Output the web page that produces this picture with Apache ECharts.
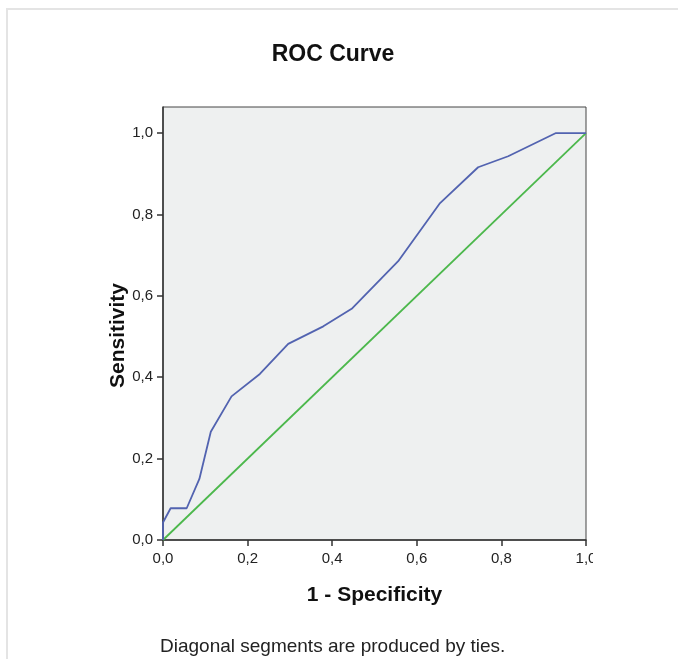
<!DOCTYPE html>
<html>
<head>
<meta charset="utf-8">
<title>ROC Curve</title>
<script src="https://cdn.jsdelivr.net/npm/echarts@6/dist/echarts.min.js"></script>
<style>
  html, body { margin: 0; padding: 0; background: #fff; }
  #chart { width: 678px; height: 659px; }
</style>
</head>
<body>
<div id="chart"></div>
<script>
// ROC points: 1 - specificity / sensitivity
const falsePosRate = [0, 0, 0.018, 0.056, 0.086, 0.113, 0.162, 0.229, 0.296, 0.379, 0.446, 0.556, 0.655, 0.745, 0.816, 0.929, 1.0]
const truePosRate = [0, 0.043, 0.078, 0.078, 0.15, 0.266, 0.353, 0.408, 0.482, 0.525, 0.568, 0.685, 0.828, 0.916, 0.943, 1.0, 1.0]
const referenceLine = [[0, 0], [1, 1]]
const tickValues = [0, 0.2, 0.4, 0.6, 0.8, 1.0]

const font = "'Liberation Sans', Arial, sans-serif"
const fmt = (v) => v.toFixed(1).replace('.', ',')

const chart = echarts.init(document.getElementById('chart'))

const option = {
  animation: false,
  backgroundColor: '#ffffff',
  title: {
    text: 'ROC Curve',
    left: 328,
    top: 38,
    textAlign: 'center',
    textStyle: { fontFamily: font, fontSize: 23, fontWeight: 'bold', color: '#111' }
  },
  grid: {
    left: 163,
    right: 92,
    top: 107,
    bottom: 119,
    show: true,
    backgroundColor: '#eef0f0',
    borderColor: '#444',
    borderWidth: 1
  },
  xAxis: {
    type: 'value',
    min: 0,
    max: 1,
    interval: 0.2,
    name: '1 - Specificity',
    nameLocation: 'middle',
    nameGap: 45,
    nameTextStyle: { fontFamily: font, fontSize: 21, fontWeight: 'bold', color: '#111' },
    axisLine: { show: true, lineStyle: { color: '#333', width: 1.5 } },
    axisTick: { show: true, length: 6, lineStyle: { color: '#333', width: 1.5 } },
    axisLabel: { fontFamily: font, fontSize: 15, color: '#222', margin: 11, formatter: fmt },
    splitLine: { show: false }
  },
  yAxis: {
    type: 'value',
    min: 0,
    max: 1.064,
    name: 'Sensitivity',
    nameLocation: 'middle',
    nameGap: 34,
    nameMoveOverlap: false,
    nameTextStyle: { fontFamily: font, fontSize: 21, fontWeight: 'bold', color: '#111', padding: [0, 24, 0, 0] },
    axisLine: { show: true, lineStyle: { color: '#333', width: 1.5 } },
    axisTick: { show: true, length: 6, customValues: tickValues, lineStyle: { color: '#333', width: 1.5 } },
    axisLabel: { fontFamily: font, fontSize: 15, color: '#222', margin: 10, customValues: tickValues, formatter: fmt },
    splitLine: { show: false }
  },
  series: [
    {
      name: 'ROC',
      type: 'line',
      showSymbol: false,
      data: falsePosRate.map((x, i) => [x, truePosRate[i]]),
      lineStyle: { color: '#5263b0', width: 1.8 },
      z: 3
    },
    {
      name: 'Reference',
      type: 'line',
      showSymbol: false,
      data: referenceLine,
      lineStyle: { color: '#4cb84c', width: 1.8 },
      z: 2
    }
  ],
  graphic: [
    // light frame around the output
    {
      type: 'rect',
      shape: { x: 7, y: 9, width: 720, height: 720 },
      style: { fill: null, stroke: '#e4e4e4', lineWidth: 2 },
      silent: true
    },
    // right end of the last x label is cut off in the original
    {
      type: 'rect',
      shape: { x: 593, y: 547, width: 14, height: 22 },
      style: { fill: '#ffffff' },
      z: 100,
      silent: true
    },
    {
      type: 'text',
      left: 160,
      top: 637,
      style: {
        text: 'Diagonal segments are produced by ties.',
        font: '19px ' + font,
        fill: '#222'
      },
      silent: true
    }
  ]
}

chart.setOption(option)
</script>
</body>
</html>
